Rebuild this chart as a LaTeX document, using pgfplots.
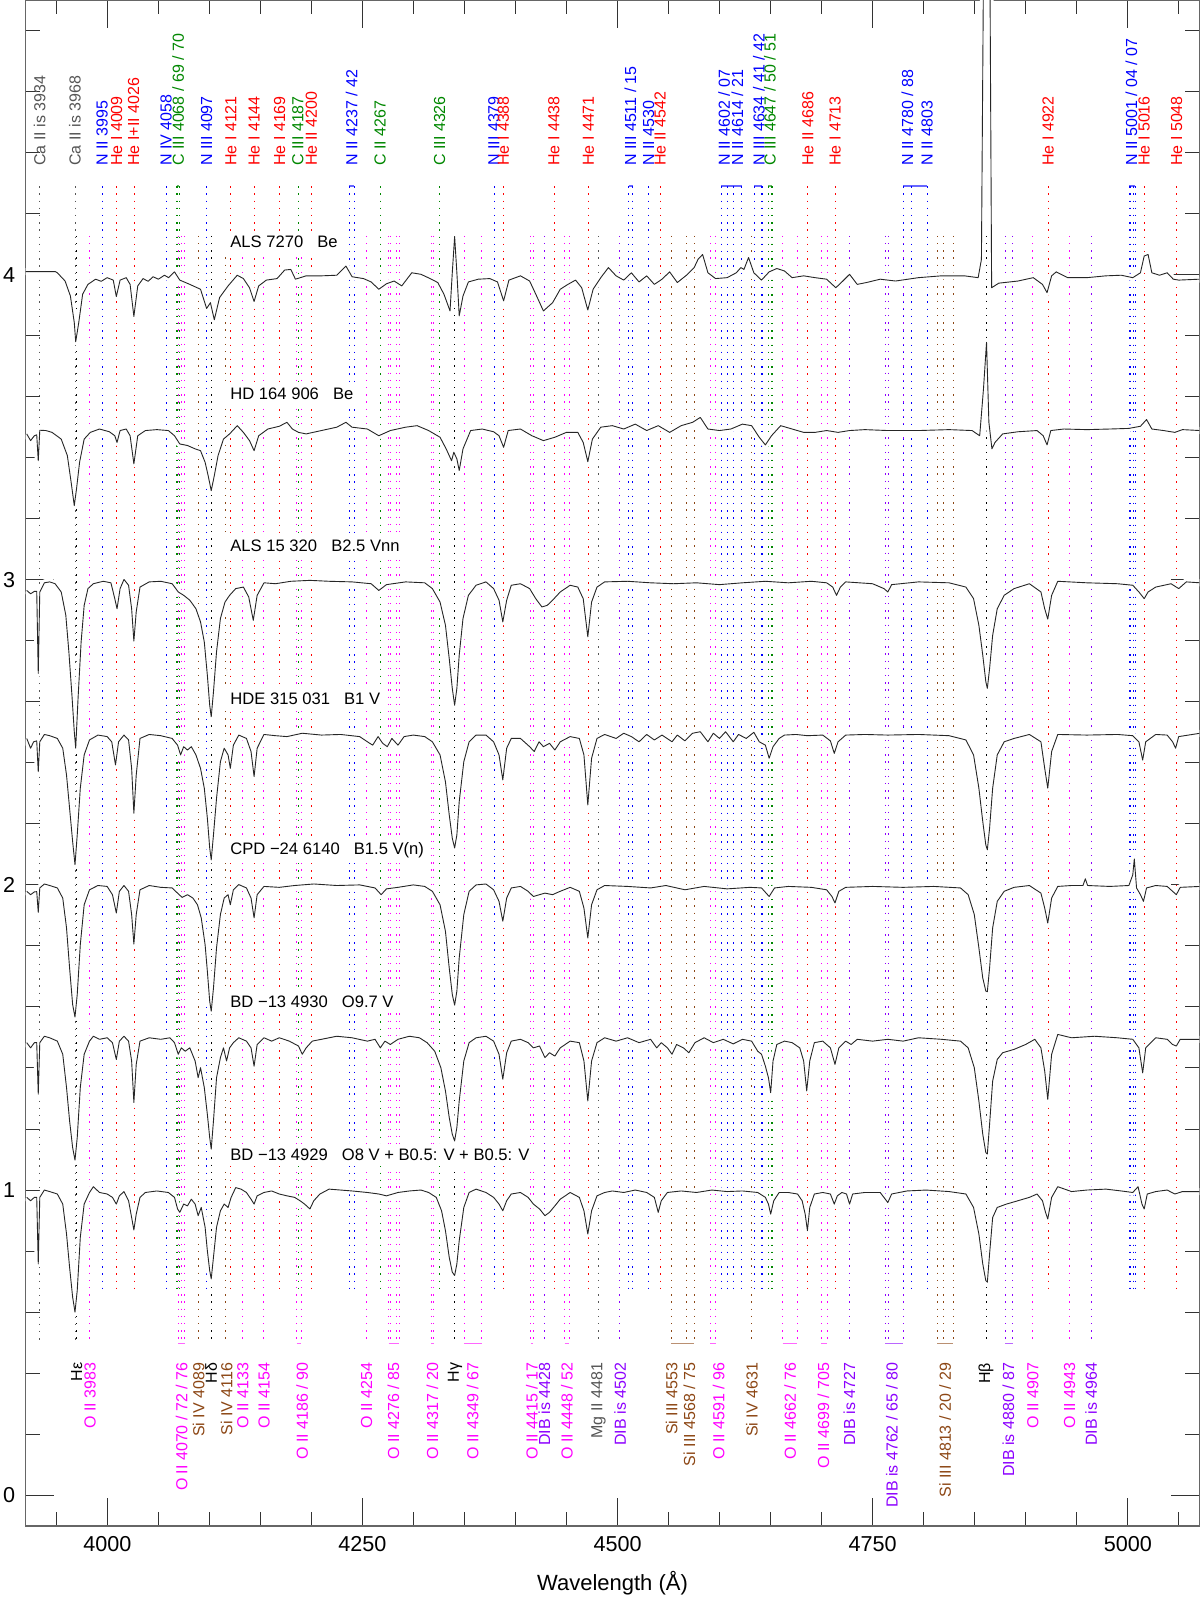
\documentclass[border=0pt]{standalone}
\usepackage{fontspec}
\setmainfont{Liberation Sans}
\usepackage{pgfplots}
\usepackage{pgfplotstable}
\pgfplotsset{compat=1.18}
\usetikzlibrary{calc}

\definecolor{cgray}{RGB}{85,85,85}
\definecolor{cred}{RGB}{255,0,0}
\definecolor{cblue}{RGB}{0,0,255}
\definecolor{cgreen}{RGB}{0,135,0}
\definecolor{cmag}{RGB}{255,0,255}
\definecolor{cbrown}{RGB}{140,70,20}
\definecolor{cdib}{RGB}{140,0,255}

% normalised spectra (wavelength, flux); offsets added when plotting
\pgfplotstableread{
l f
3920 1.010
3949 1.010
3951 1.006
3958.6 0.979
3963.8 0.930
3967.6 0.843
3969.0 0.780
3972.0 0.843
3975.8 0.936
3981.0 0.968
3988.5 0.985
3994 0.978
3999.8 0.990
4005.8 0.982
4008.8 0.928
4012.5 0.982
4018.5 0.990
4022.3 0.968
4026.0 0.863
4029.8 0.963
4035.0 0.987
4040 0.978
4044.8 0.993
4050 0.985
4056.0 0.998
4060 0.990
4065.8 1.009
4071.0 0.982
4080.8 0.968
4091.3 0.952
4097.3 0.889
4101.0 0.908
4104.8 0.852
4110.0 0.925
4118.3 0.963
4127.3 0.998
4133.3 0.987
4139.3 0.957
4143.8 0.912
4148.3 0.963
4155.8 0.982
4166.3 0.987
4173.8 1.015
4179.8 1.017
4184.3 0.985
4194.8 0.996
4209.8 0.996
4224.8 0.998
4233.8 1.028
4239.8 0.993
4251.0 0.987
4258.5 0.976
4266.0 0.952
4273.5 0.970
4281.0 0.979
4288.5 0.963
4298.3 1.006
4307.3 1.001
4316.3 0.987
4323.8 0.974
4329.8 0.936
4335.8 0.881
4338.0 1.006
4340.3 1.125
4342.5 1.006
4344.8 0.865
4348.5 0.930
4353.8 0.976
4363.5 0.985
4374.8 0.987
4382.3 0.976
4388.3 0.914
4393.5 0.982
4404.8 0.996
4413.8 0.979
4419.8 0.936
4427.3 0.881
4436.3 0.908
4443.8 0.952
4451.3 0.968
4458.8 0.982
4464.8 0.957
4470.8 0.884
4476.0 0.952
4483.5 0.990
4491.0 1.023
4498.5 0.996
4506.0 0.982
4513.5 1.006
4521.0 0.976
4528.5 0.996
4536.0 0.968
4543.5 0.985
4551.0 1.009
4558.5 0.974
4567.5 0.998
4575.0 1.023
4578.8 1.050
4583.3 1.066
4588.5 1.006
4596.0 0.987
4607.3 0.990
4616.3 1.006
4620.8 1.023
4623.8 1.017
4628.3 1.056
4633.5 1.006
4641.0 0.982
4648.5 1.009
4656.0 1.020
4663.5 1.012
4671.0 0.990
4682.3 0.996
4693.5 0.990
4704.8 0.985
4713.8 0.957
4719.8 0.976
4727.3 1.001
4734.8 0.968
4743.8 0.974
4757.3 0.985
4772.3 0.979
4794.8 0.990
4817.3 0.996
4839.8 0.996
4853.3 0.990
4856.5 1.050
4858.3 1.900
4860.5 2.500
4863.0 2.500
4865.0 1.900
4866.5 0.957
4873.5 0.972
4892.3 0.979
4907.3 0.990
4916.3 0.968
4920.8 0.941
4925.3 0.996
4929.8 1.009
4941.0 0.990
4959.8 0.990
4978.5 0.996
4993.5 0.998
5004.8 0.990
5012.3 1.006
5016.0 1.061
5019.8 1.066
5023.5 1.006
5031.0 0.998
5038.5 1.006
5044.5 0.985
5049.8 0.982
5070 0.985
}\sA

\pgfplotstableread{
l f
3921.0 0.978
3924.8 0.956
3928.5 0.972
3930.8 0.975
3932.3 0.890
3933.8 0.990
3939.8 0.989
3945.8 0.983
3954.8 0.961
3960.8 0.907
3964.5 0.820
3967.6 0.743
3969.8 0.798
3972.8 0.885
3977.3 0.961
3983.3 0.983
3992.3 0.994
4002.0 0.985
4007.3 0.972
4009.5 0.950
4012.5 0.989
4018.5 0.994
4022.3 0.972
4026.0 0.880
4029.8 0.972
4037.3 0.989
4048.5 0.992
4059.8 0.989
4065.8 0.972
4071.0 0.945
4078.5 0.940
4086.0 0.929
4091.3 0.923
4095.8 0.885
4098.8 0.841
4101.8 0.792
4104.8 0.841
4108.5 0.907
4113.8 0.961
4119.8 0.978
4127.3 1.005
4133.3 0.983
4139.3 0.956
4143.8 0.923
4148.3 0.972
4157.3 0.994
4168.5 1.003
4176.0 1.016
4181.3 0.994
4187.3 0.983
4194.8 0.978
4209.8 0.989
4224.8 1.000
4233.8 1.016
4239.8 1.000
4254.8 0.994
4266.0 0.972
4277.3 0.989
4292.3 1.000
4303.5 1.005
4314.8 0.989
4326.0 0.967
4332.0 0.929
4337.3 0.890
4339.5 0.918
4342.5 0.896
4344.8 0.858
4348.5 0.929
4356.0 0.989
4367.3 0.994
4378.5 0.985
4383.8 0.972
4388.3 0.934
4392.8 0.989
4404.8 0.994
4416.0 0.972
4427.3 0.956
4438.5 0.967
4449.8 0.983
4461.0 0.983
4466.3 0.950
4470.8 0.887
4475.3 0.961
4483.5 1.000
4494.8 1.005
4506.0 0.994
4517.3 1.010
4528.5 0.989
4539.8 1.005
4551.0 0.983
4562.3 1.005
4573.5 1.016
4581.0 1.032
4588.5 0.994
4599.8 0.989
4611.0 0.994
4622.3 1.010
4631.3 1.005
4638.8 0.967
4644.8 0.942
4650.8 0.972
4659.8 1.005
4671.0 0.994
4682.3 0.983
4693.5 0.983
4704.8 0.989
4716.0 0.983
4727.3 0.989
4742.3 0.992
4764.8 0.989
4794.8 0.989
4824.8 0.992
4847.3 0.989
4854.8 0.972
4858.5 1.125
4861.5 1.278
4863.8 1.016
4866.8 0.929
4869.8 0.950
4877.3 0.978
4892.3 0.985
4911.0 0.989
4917.0 0.972
4920.8 0.942
4924.5 0.989
4937.3 0.994
4959.8 0.992
4982.3 0.994
5001.0 0.996
5012.3 1.003
5018.3 1.025
5023.5 0.994
5035.0 0.989
5046.0 0.983
5053.5 0.992
5070.8 0.989
}\sB

\pgfplotstableread{
l f
3921.0 0.965
3924.8 0.954
3928.5 0.962
3930.8 0.962
3932.3 0.693
3933.8 0.960
3938.3 0.990
3943.5 0.993
3948.8 0.987
3954.8 0.960
3959.3 0.884
3962.3 0.764
3965.3 0.622
3967.6 0.502
3969.0 0.448
3971.3 0.611
3974.3 0.796
3977.3 0.916
3981.0 0.971
3986.3 0.987
3996.0 0.995
4003.5 0.990
4007.3 0.938
4009.5 0.905
4012.5 0.971
4016.3 1.001
4020.8 0.982
4023.8 0.905
4026.0 0.799
4028.3 0.895
4032.0 0.976
4041.0 0.993
4052.3 0.995
4063.5 0.987
4069.5 0.960
4074.8 0.949
4080.8 0.933
4086.8 0.905
4091.3 0.862
4095.0 0.796
4098.0 0.687
4100.3 0.589
4101.8 0.551
4104.0 0.633
4107.0 0.764
4110.8 0.873
4115.3 0.927
4119.8 0.949
4125.8 0.971
4133.3 0.976
4138.5 0.944
4143.0 0.867
4146.8 0.949
4153.5 0.990
4164.8 0.987
4179.8 0.995
4198.5 0.998
4217.3 0.995
4239.8 0.993
4258.5 0.987
4266.0 0.965
4273.5 0.984
4292.3 0.993
4311.0 0.990
4318.5 0.971
4326.0 0.927
4331.3 0.851
4335.0 0.742
4338.0 0.644
4340.3 0.589
4342.5 0.644
4344.8 0.753
4348.5 0.873
4353.8 0.949
4361.3 0.982
4371.0 0.993
4378.5 0.971
4383.8 0.933
4387.5 0.862
4391.3 0.933
4395.8 0.982
4404.8 0.987
4413.8 0.971
4419.8 0.938
4425.8 0.911
4431.0 0.916
4436.3 0.933
4443.8 0.960
4453.5 0.982
4461.0 0.976
4466.3 0.938
4470.8 0.813
4474.5 0.927
4479.8 0.976
4487.3 0.993
4509.8 0.995
4532.3 0.990
4554.8 0.987
4577.3 0.990
4599.8 0.984
4622.3 0.990
4644.8 0.995
4667.3 0.990
4689.8 0.995
4704.8 0.990
4710.8 0.976
4714.5 0.949
4718.3 0.976
4723.5 0.993
4749.8 0.987
4761.0 0.971
4764.8 0.960
4768.5 0.984
4794.8 0.993
4824.8 0.990
4841.3 0.976
4848.8 0.938
4854.0 0.851
4857.8 0.753
4860.8 0.666
4862.3 0.644
4864.5 0.709
4867.5 0.818
4872.0 0.905
4878.8 0.949
4888.5 0.971
4903.5 0.987
4914.8 0.960
4918.5 0.905
4921.5 0.871
4925.3 0.949
4931.3 0.995
4959.8 0.990
4989.8 0.987
5004.8 0.982
5010.8 0.960
5016.0 0.938
5019.8 0.960
5027.3 0.976
5042.3 0.987
5049.8 0.971
5057.3 0.993
5070.8 0.990
}\sC

\pgfplotstableread{
l f
3921.0 0.980
3924.8 0.948
3927.8 0.969
3930.8 0.972
3932.3 0.871
3933.8 0.969
3938.3 0.993
3943.5 0.989
3951.0 0.980
3956.3 0.948
3960.0 0.860
3963.0 0.751
3966.0 0.642
3968.3 0.566
3970.5 0.664
3973.5 0.817
3977.3 0.926
3982.5 0.975
3990.8 0.991
3999.8 0.986
4004.3 0.969
4008.0 0.893
4011.0 0.969
4016.3 0.991
4020.8 0.975
4023.8 0.882
4026.0 0.735
4028.3 0.860
4032.0 0.980
4041.0 0.993
4052.3 0.989
4063.5 0.980
4068.8 0.958
4071.8 0.926
4074.8 0.953
4078.5 0.942
4082.3 0.953
4086.8 0.926
4091.3 0.882
4095.0 0.817
4098.0 0.719
4100.3 0.621
4101.8 0.582
4104.0 0.664
4107.0 0.784
4110.8 0.904
4114.5 0.948
4118.3 0.926
4120.5 0.882
4123.5 0.958
4128.8 0.991
4136.3 0.980
4140.8 0.937
4143.8 0.855
4146.8 0.948
4153.5 0.993
4164.8 0.989
4176.0 0.986
4191.0 0.997
4209.8 0.991
4228.5 0.993
4247.3 0.986
4254.8 0.969
4260.0 0.958
4265.3 0.986
4269.8 0.964
4274.3 0.953
4278.8 0.980
4284.8 0.958
4290.8 0.986
4299.8 0.991
4311.0 0.986
4318.5 0.969
4326.0 0.926
4331.3 0.838
4335.0 0.730
4338.0 0.653
4340.3 0.621
4342.5 0.664
4344.8 0.773
4349.3 0.904
4354.5 0.969
4361.3 0.991
4371.0 0.991
4378.5 0.969
4383.8 0.926
4387.5 0.844
4391.3 0.948
4395.8 0.980
4404.8 0.980
4413.8 0.953
4418.3 0.937
4423.0 0.969
4427.3 0.953
4433.3 0.964
4438.5 0.942
4443.8 0.969
4453.5 0.986
4462.5 0.980
4467.0 0.926
4470.8 0.762
4474.5 0.915
4479.8 0.980
4487.3 0.993
4498.5 0.980
4506.0 0.997
4513.5 0.986
4521.0 0.969
4528.5 0.993
4536.0 0.975
4543.5 0.991
4553.3 0.969
4558.5 0.991
4566.0 0.972
4573.5 0.997
4581.0 1.002
4588.5 0.969
4593.8 0.997
4599.8 0.980
4605.8 1.002
4613.3 0.969
4618.5 0.993
4626.0 0.980
4633.5 1.000
4638.8 0.969
4644.8 0.958
4648.5 0.915
4652.3 0.953
4658.3 0.980
4663.5 0.991
4674.8 0.993
4686.0 0.989
4701.0 0.991
4708.5 0.972
4712.3 0.931
4716.0 0.969
4723.5 0.991
4742.3 0.993
4764.8 0.991
4794.8 0.993
4824.8 0.989
4841.3 0.975
4848.8 0.926
4854.0 0.817
4857.8 0.708
4860.8 0.631
4862.3 0.615
4864.5 0.686
4867.5 0.817
4872.0 0.926
4878.8 0.969
4888.5 0.980
4903.5 0.993
4914.8 0.969
4918.5 0.882
4921.5 0.817
4925.3 0.937
4931.3 0.993
4959.8 0.991
4989.8 0.993
5004.8 0.989
5010.8 0.969
5014.5 0.909
5017.5 0.969
5027.3 0.993
5038.5 0.991
5043.8 0.969
5046.8 0.948
5049.8 0.986
5070.8 0.997
}\sD

\pgfplotstableread{
l f
3921.0 0.979
3924.8 0.968
3928.5 0.977
3930.8 0.978
3932.3 0.910
3933.8 0.990
3938.3 1.003
3943.5 0.998
3951.0 0.990
3956.3 0.957
3960.0 0.859
3963.0 0.728
3966.0 0.608
3968.3 0.567
3970.5 0.641
3973.5 0.804
3977.3 0.935
3982.5 0.984
3990.8 0.998
3999.8 0.995
4005.0 0.968
4008.8 0.908
4011.8 0.979
4016.3 0.998
4020.8 0.979
4023.8 0.903
4026.0 0.806
4028.3 0.903
4032.0 0.984
4041.0 0.998
4052.3 0.992
4063.5 0.990
4068.8 0.973
4073.3 0.959
4078.5 0.968
4083.8 0.957
4088.3 0.935
4092.0 0.892
4095.8 0.804
4098.0 0.717
4100.3 0.619
4101.8 0.586
4104.0 0.662
4107.0 0.794
4110.8 0.903
4114.5 0.957
4118.3 0.968
4120.5 0.935
4123.5 0.984
4128.8 1.001
4136.3 0.990
4140.8 0.957
4143.8 0.892
4146.8 0.968
4153.5 0.995
4168.5 0.992
4183.5 0.998
4202.3 1.003
4224.8 0.998
4247.3 1.000
4262.3 0.990
4268.3 0.968
4273.5 0.987
4284.8 0.992
4299.8 1.000
4311.0 0.995
4318.5 0.979
4326.0 0.935
4331.3 0.848
4335.0 0.728
4338.0 0.641
4340.3 0.606
4342.5 0.652
4344.8 0.761
4349.3 0.903
4354.5 0.979
4361.3 1.000
4371.0 1.003
4378.5 0.984
4383.8 0.946
4387.5 0.881
4391.3 0.957
4395.8 0.990
4404.8 0.995
4412.3 0.979
4417.5 0.962
4423.5 0.968
4428.8 0.973
4436.3 0.968
4442.3 0.977
4453.5 0.992
4462.5 0.979
4467.0 0.924
4470.8 0.826
4474.5 0.935
4479.8 0.984
4487.3 0.998
4509.8 0.995
4532.3 0.990
4547.3 0.998
4566.0 0.984
4584.8 0.995
4607.3 0.987
4629.8 0.992
4641.0 0.990
4648.5 0.962
4653.8 0.990
4667.3 0.995
4689.8 0.992
4704.8 0.984
4710.0 0.962
4713.0 0.941
4716.8 0.979
4723.5 0.992
4749.8 0.995
4779.8 0.992
4809.8 0.995
4836.0 0.990
4843.5 0.968
4849.5 0.903
4854.0 0.794
4857.8 0.695
4860.8 0.652
4862.3 0.650
4864.5 0.728
4867.5 0.859
4872.0 0.946
4878.8 0.979
4888.5 0.992
4903.5 0.998
4914.8 0.973
4918.5 0.924
4921.5 0.875
4925.3 0.957
4931.3 0.995
4944.8 0.998
4956.0 0.998
4958.3 1.020
4960.5 0.998
4982.3 0.995
5001.0 0.998
5004.8 1.033
5006.3 1.085
5008.5 0.990
5012.3 0.968
5015.3 0.946
5018.3 0.990
5027.3 0.998
5038.5 0.995
5043.8 0.979
5047.5 0.968
5051.3 0.992
5070.8 0.995
}\sE

\pgfplotstableread{
l f
3921.0 0.983
3924.8 0.966
3928.5 0.983
3930.8 0.983
3932.3 0.814
3933.8 0.983
3938.3 1.004
3943.5 0.999
3951.0 0.988
3956.3 0.945
3960.0 0.836
3963.0 0.727
3966.0 0.639
3968.3 0.598
3970.5 0.672
3973.5 0.836
3977.3 0.945
3982.5 0.988
3986.3 1.004
3992.3 0.994
3999.8 0.999
4005.0 0.983
4008.8 0.928
4011.8 0.988
4016.3 1.004
4020.8 0.988
4023.8 0.923
4026.0 0.787
4028.3 0.912
4032.0 0.988
4041.0 0.999
4052.3 0.994
4061.3 0.999
4065.8 0.983
4069.5 0.945
4072.5 0.966
4076.3 0.955
4080.8 0.966
4086.0 0.923
4089.0 0.868
4091.3 0.901
4095.0 0.836
4098.0 0.748
4100.3 0.672
4101.8 0.634
4104.0 0.727
4107.0 0.868
4110.8 0.934
4113.8 0.966
4116.8 0.923
4119.8 0.966
4123.5 0.983
4128.8 0.999
4136.3 0.988
4140.8 0.966
4143.8 0.906
4146.8 0.977
4153.5 0.999
4161.0 0.988
4168.5 0.999
4178.3 0.988
4187.3 0.972
4191.0 0.945
4194.8 0.966
4200.8 0.988
4209.8 0.994
4224.8 1.004
4239.8 0.999
4254.8 0.988
4262.3 0.994
4267.5 0.966
4272.0 0.988
4277.3 0.977
4284.8 0.994
4296.0 1.004
4305.8 0.999
4313.3 0.983
4320.8 0.955
4326.8 0.901
4331.3 0.825
4335.0 0.738
4338.0 0.683
4340.3 0.661
4342.5 0.705
4344.8 0.792
4349.3 0.923
4354.5 0.983
4361.3 0.999
4371.0 1.004
4378.5 0.988
4383.8 0.945
4387.5 0.863
4391.3 0.950
4395.8 0.988
4404.8 0.994
4412.3 0.983
4417.5 0.966
4423.5 0.972
4428.8 0.934
4433.3 0.950
4438.5 0.939
4443.8 0.966
4453.5 0.988
4462.5 0.983
4467.0 0.923
4470.8 0.792
4474.5 0.923
4479.8 0.983
4487.3 0.999
4498.5 0.988
4509.8 0.999
4521.0 0.983
4532.3 0.994
4538.3 0.966
4542.8 0.983
4548.8 0.966
4553.3 0.945
4557.8 0.977
4564.5 0.966
4569.8 0.950
4575.8 0.983
4584.8 0.999
4593.8 0.983
4603.5 0.994
4613.3 0.979
4622.3 0.994
4631.3 0.988
4637.3 0.955
4641.0 0.945
4644.8 0.906
4647.8 0.868
4650.0 0.819
4652.3 0.923
4656.0 0.977
4663.5 0.988
4671.0 0.983
4678.5 0.966
4682.3 0.923
4685.3 0.825
4688.3 0.923
4692.8 0.983
4701.0 0.988
4708.5 0.966
4713.0 0.912
4716.8 0.966
4723.5 0.988
4728.8 0.977
4734.8 0.994
4749.8 0.988
4764.8 0.994
4779.8 0.988
4794.8 0.999
4817.3 0.994
4836.0 0.988
4843.5 0.966
4849.5 0.901
4854.0 0.792
4857.8 0.683
4860.8 0.623
4862.3 0.618
4864.5 0.716
4867.5 0.857
4872.0 0.928
4877.3 0.950
4888.5 0.961
4899.8 0.977
4908.8 0.994
4914.8 0.966
4918.5 0.890
4921.5 0.797
4925.3 0.945
4931.3 1.010
4944.8 0.999
4967.3 1.004
4989.8 0.999
5004.8 0.994
5010.8 0.966
5014.5 0.884
5017.5 0.966
5027.3 0.999
5038.5 0.994
5043.8 0.977
5047.5 0.972
5051.3 0.994
5070.8 0.994
}\sF

\pgfplotstableread{
l f
3921.0 0.976
3924.8 0.965
3928.5 0.976
3930.8 0.976
3932.3 0.758
3933.8 0.976
3938.3 1.000
3943.5 0.995
3951.0 0.987
3956.3 0.954
3960.0 0.856
3963.0 0.747
3966.0 0.649
3968.3 0.600
3970.5 0.671
3973.5 0.845
3977.3 0.954
3982.5 0.992
3986.3 1.011
3992.3 0.992
3999.8 0.987
4005.0 0.976
4008.8 0.954
4011.8 0.981
4016.3 0.995
4020.8 0.965
4023.8 0.910
4026.0 0.869
4028.3 0.921
4032.0 0.976
4037.3 0.992
4048.5 0.997
4059.8 0.992
4065.8 0.976
4068.8 0.938
4071.0 0.927
4074.8 0.954
4078.5 0.948
4082.3 0.970
4086.0 0.954
4089.0 0.916
4092.0 0.943
4095.8 0.878
4098.0 0.801
4100.3 0.736
4101.8 0.709
4104.0 0.780
4107.0 0.878
4110.8 0.932
4114.5 0.954
4118.3 0.943
4121.3 0.976
4125.8 1.008
4131.0 1.003
4136.3 0.992
4140.8 0.970
4143.8 0.954
4146.8 0.981
4153.5 0.992
4161.0 0.997
4168.5 0.987
4176.0 0.981
4183.5 0.976
4188.8 0.965
4193.3 0.954
4198.5 0.938
4202.3 0.965
4208.3 0.987
4217.3 1.003
4228.5 1.000
4239.8 0.997
4254.8 0.992
4266.0 0.987
4273.5 0.981
4284.8 0.992
4296.0 0.997
4307.3 1.000
4314.8 0.992
4322.3 0.976
4327.5 0.932
4331.3 0.867
4335.0 0.780
4338.0 0.731
4340.3 0.720
4342.5 0.758
4344.8 0.834
4349.3 0.943
4354.5 0.992
4361.3 1.003
4371.0 0.992
4378.5 0.976
4383.8 0.954
4387.5 0.932
4391.3 0.965
4395.8 0.987
4404.8 0.992
4412.3 0.976
4417.5 0.954
4423.5 0.938
4428.8 0.916
4433.3 0.927
4438.5 0.948
4443.8 0.970
4453.5 0.992
4462.5 0.976
4467.0 0.932
4470.8 0.856
4474.5 0.932
4479.8 0.981
4487.3 0.992
4494.8 0.997
4506.0 0.992
4517.3 1.000
4528.5 0.992
4536.0 0.976
4539.8 0.927
4542.8 0.965
4548.8 0.992
4562.3 0.997
4577.3 0.992
4592.3 1.000
4607.3 0.995
4622.3 0.997
4637.3 0.992
4644.8 0.976
4647.8 0.954
4650.0 0.921
4653.0 0.965
4658.3 0.992
4667.3 0.992
4676.3 0.987
4680.8 0.965
4683.8 0.921
4686.0 0.867
4688.3 0.943
4692.8 0.987
4701.0 0.992
4708.5 0.987
4712.3 0.954
4715.3 0.981
4719.8 0.992
4724.3 0.987
4727.3 0.954
4730.3 0.987
4742.3 0.992
4757.3 0.992
4764.8 0.959
4768.5 0.987
4783.5 0.997
4802.3 1.000
4824.8 0.995
4841.3 0.987
4848.8 0.943
4854.0 0.856
4857.8 0.758
4860.8 0.703
4862.3 0.698
4864.5 0.791
4867.5 0.910
4872.0 0.943
4881.0 0.954
4892.3 0.965
4903.5 0.976
4911.0 0.987
4916.3 0.965
4919.3 0.927
4921.5 0.905
4925.3 0.976
4931.3 1.011
4944.8 0.995
4959.8 1.000
4978.5 1.003
4993.5 0.997
5004.8 0.992
5010.0 1.011
5013.8 0.954
5016.0 0.938
5019.0 0.987
5027.3 0.995
5038.5 1.000
5046.0 0.987
5053.5 0.995
5070.8 0.995
}\sG

\tikzset{
  idl/.style={line width=0.4pt, dash pattern=on 0.7pt off 2.9pt},
  brk/.style={line width=0.9pt, opacity=0.6},
  tl/.style={rotate=90, anchor=west, inner sep=0pt, font=\fontsize{8}{9}\selectfont},
  bl/.style={rotate=90, anchor=east, inner sep=0pt, font=\fontsize{8}{9}\selectfont},
  star/.style={anchor=west, fill=white, inner xsep=3pt, inner ysep=2.5pt, xshift=-3pt,
    font=\fontsize{8.3}{10}\selectfont, text=black},
  spec/.style={black!85, line width=0.45pt, line join=round,
    preaction={draw=white, line width=3.5pt}}
}

\begin{document}
\begin{tikzpicture}
\begin{axis}[
  scale only axis, width=586.8pt, height=762.85pt,
  xmin=3920, xmax=5070, ymin=-0.1, ymax=4.9,
  xtick={4000,4250,4500,4750,5000},
  minor xtick={3950,4000,...,5050},
  ytick={0,1,2,3,4},
  minor ytick={0,0.2,...,4.81},
  tick align=inside, tick pos=both,
  xticklabel pos=lower, yticklabel pos=left,
  major tick length=14pt, minor tick length=7pt,
  every tick/.style={black!80, line width=0.5pt},
  axis line style={black!60, line width=0.8pt},
  /pgf/number format/assume math mode=true,
  /pgf/number format/1000 sep={},
  ticklabel style={font=\fontsize{10.8}{12}\selectfont},
  xticklabel style={yshift=-2pt},
  yticklabel style={xshift=-1.7pt},
  xlabel={Wavelength (Å)},
  xlabel style={font=\fontsize{11}{13}\selectfont, at={(axis description cs:0.5,0)},
    anchor=center, yshift=-28.6pt},
]
% identification lines: upper group
\pgfplotsinvokeforeach{3933.7,3968.5}{\draw[idl,cgray] (axis cs:#1,4.29) -- (axis cs:#1,0.497);}
\pgfplotsinvokeforeach{3995.0,4057.8,4097.3,4236.9,4241.8,4379.1,4510.9,4514.9,4530.4,4601.5,4607.2,4613.9,4621.4,4634.1,4640.6,4641.9,4779.7,4788.1,4803.3,5001.1,5002.7,5005.2,5007.3}{\draw[idl,cblue] (axis cs:#1,4.29) -- (axis cs:#1,0.664);}
\pgfplotsinvokeforeach{4009.3,4026.2,4120.8,4143.8,4169.0,4199.8,4387.9,4437.6,4471.5,4541.6,4685.7,4713.1,4921.9,5015.7,5047.7}{\draw[idl,cred] (axis cs:#1,4.29) -- (axis cs:#1,0.664);}
\pgfplotsinvokeforeach{4067.9,4068.9,4070.3,4186.9,4267.2,4325.6,4647.4,4650.3,4651.5}{\draw[idl,cgreen] (axis cs:#1,4.29) -- (axis cs:#1,0.664);}
% identification lines: lower group
\pgfplotsinvokeforeach{3982.7,4069.6,4072.2,4075.9,4132.8,4153.3,4185.4,4189.8,4254.0,4275.5,4277.4,4283.7,4285.7,4317.1,4319.6,4349.4,4366.9,4414.9,4417.0,4448.2,4452.4,4591.0,4596.0,4661.6,4676.2,4699.2,4705.3,4906.8,4943.0}{\draw[idl,cmag] (axis cs:#1,4.127) -- (axis cs:#1,0.497);}
\pgfplotsinvokeforeach{4088.9,4116.1,4552.6,4567.8,4574.8,4631.4,4813.3,4819.7,4828.9}{\draw[idl,cbrown] (axis cs:#1,4.127) -- (axis cs:#1,0.497);}
\pgfplotsinvokeforeach{4428.0,4501.8,4726.8,4762.3,4765.0,4780.0,4880.0,4887.0,4963.9}{\draw[idl,cdib] (axis cs:#1,4.127) -- (axis cs:#1,0.497);}
\pgfplotsinvokeforeach{4481.2}{\draw[idl,cgray] (axis cs:#1,4.127) -- (axis cs:#1,0.497);}
\pgfplotsinvokeforeach{3970.1,4101.7,4340.5,4861.3}{\draw[idl,black] (axis cs:#1,4.127) -- (axis cs:#1,0.497);}

% multiplet brackets
\draw[brk,cblue] (axis cs:4236.9,4.29) -- (axis cs:4241.8,4.29);
\draw[brk,cblue] (axis cs:4510.9,4.29) -- (axis cs:4514.9,4.29);
\draw[brk,cblue] (axis cs:4601.5,4.29) -- (axis cs:4621.4,4.29);
\draw[brk,cblue] (axis cs:4634.1,4.29) -- (axis cs:4641.9,4.29);
\draw[brk,cblue] (axis cs:4779.7,4.29) -- (axis cs:4803.3,4.29);
\draw[brk,cblue] (axis cs:5001.1,4.29) -- (axis cs:5007.3,4.29);
\draw[brk,cgreen] (axis cs:4067.9,4.29) -- (axis cs:4070.3,4.29);
\draw[brk,cgreen] (axis cs:4647.4,4.29) -- (axis cs:4651.5,4.29);
\draw[brk,cmag] (axis cs:4069.6,0.497) -- (axis cs:4075.9,0.497);
\draw[brk,cmag] (axis cs:4185.4,0.497) -- (axis cs:4189.8,0.497);
\draw[brk,cmag] (axis cs:4275.5,0.497) -- (axis cs:4285.7,0.497);
\draw[brk,cmag] (axis cs:4317.1,0.497) -- (axis cs:4319.6,0.497);
\draw[brk,cmag] (axis cs:4349.4,0.497) -- (axis cs:4366.9,0.497);
\draw[brk,cmag] (axis cs:4414.9,0.497) -- (axis cs:4417.0,0.497);
\draw[brk,cmag] (axis cs:4448.2,0.497) -- (axis cs:4452.4,0.497);
\draw[brk,cmag] (axis cs:4591.0,0.497) -- (axis cs:4596.0,0.497);
\draw[brk,cmag] (axis cs:4661.6,0.497) -- (axis cs:4676.2,0.497);
\draw[brk,cmag] (axis cs:4699.2,0.497) -- (axis cs:4705.3,0.497);
\draw[brk,cbrown] (axis cs:4552.6,0.497) -- (axis cs:4574.8,0.497);
\draw[brk,cbrown] (axis cs:4813.3,0.497) -- (axis cs:4828.9,0.497);
\draw[brk,cdib] (axis cs:4762.3,0.497) -- (axis cs:4780.0,0.497);
\draw[brk,cdib] (axis cs:4880.0,0.497) -- (axis cs:4887.0,0.497);

% star names
\node[star] at (axis cs:4120.2,4.107) {ALS 7270\hspace{0.85em}Be};
\node[star] at (axis cs:4120.2,3.611) {HD 164 906\hspace{0.85em}Be};
\node[star] at (axis cs:4120.2,3.111) {ALS 15 320\hspace{0.85em}B2.5 Vnn};
\node[star] at (axis cs:4120.2,2.610) {HDE 315 031\hspace{0.85em}B1 V};
\node[star] at (axis cs:4120.2,2.113) {CPD −24 6140\hspace{0.85em}B1.5 V(n)};
\node[star] at (axis cs:4120.2,1.616) {BD −13 4930\hspace{0.85em}O9.7 V};
\node[star] at (axis cs:4120.2,1.114) {BD −13 4929\hspace{0.85em}O8 V + B0.5: V + B0.5: V};

% spectra
\addplot[spec] table[x=l, y expr=\thisrow{f}+3.0] {\sA};
\addplot[spec] table[x=l, y expr=\thisrow{f}+2.5] {\sB};
\addplot[spec] table[x=l, y expr=\thisrow{f}+2.0] {\sC};
\addplot[spec] table[x=l, y expr=\thisrow{f}+1.5] {\sD};
\addplot[spec] table[x=l, y expr=\thisrow{f}+1.0] {\sE};
\addplot[spec] table[x=l, y expr=\thisrow{f}+0.5] {\sF};
\addplot[spec] table[x=l, y expr=\thisrow{f}] {\sG};

% upper labels
\node[tl,cgray] at (axis cs:3933.7,4.356) {Ca II is 3934};
\node[tl,cgray] at (axis cs:3968.3,4.356) {Ca II is 3968};
\node[tl,cblue] at (axis cs:3994.9,4.356) {N II 3995};
\node[tl,cred] at (axis cs:4009.2,4.356) {He I 4009};
\node[tl,cred] at (axis cs:4025.8,4.356) {He I+II 4026};
\node[tl,cblue] at (axis cs:4057.5,4.356) {N IV 4058};
\node[tl,cgreen] at (axis cs:4069.4,4.356) {C III 4068 / 69 / 70};
\node[tl,cblue] at (axis cs:4097.3,4.356) {N III 4097};
\node[tl,cred] at (axis cs:4121.0,4.356) {He I 4121};
\node[tl,cred] at (axis cs:4143.8,4.356) {He I 4144};
\node[tl,cred] at (axis cs:4168.8,4.356) {He I 4169};
\node[tl,cgreen] at (axis cs:4186.8,4.356) {C III 4187};
\node[tl,cred] at (axis cs:4200.0,4.356) {He II 4200};
\node[tl,cblue] at (axis cs:4239.5,4.356) {N II 4237 / 42};
\node[tl,cgreen] at (axis cs:4267.2,4.356) {C II 4267};
\node[tl,cgreen] at (axis cs:4325.6,4.356) {C III 4326};
\node[tl,cblue] at (axis cs:4378.8,4.356) {N III 4379};
\node[tl,cred] at (axis cs:4388.0,4.356) {He I 4388};
\node[tl,cred] at (axis cs:4437.6,4.356) {He I 4438};
\node[tl,cred] at (axis cs:4471.4,4.356) {He I 4471};
\node[tl,cblue] at (axis cs:4512.5,4.356) {N III 4511 / 15};
\node[tl,cblue] at (axis cs:4530.3,4.356) {N II 4530};
\node[tl,cred] at (axis cs:4541.6,4.356) {He II 4542};
\node[tl,cblue] at (axis cs:4604.5,4.356) {N II 4602 / 07};
\node[tl,cblue] at (axis cs:4617.5,4.356) {N II 4614 / 21};
\node[tl,cblue] at (axis cs:4638.5,4.356) {N III 4634 / 41 / 42};
\node[tl,cgreen] at (axis cs:4649.2,4.356) {C III 4647 / 50 / 51};
\node[tl,cred] at (axis cs:4686.5,4.356) {He II 4686};
\node[tl,cred] at (axis cs:4713.2,4.356) {He I 4713};
\node[tl,cblue] at (axis cs:4784.0,4.356) {N II 4780 / 88};
\node[tl,cblue] at (axis cs:4803.2,4.356) {N II 4803};
\node[tl,cred] at (axis cs:4921.8,4.356) {He I 4922};
\node[tl,cblue] at (axis cs:5003.5,4.356) {N II 5001 / 04 / 07};
\node[tl,cred] at (axis cs:5016.0,4.356) {He I 5016};
\node[tl,cred] at (axis cs:5047.8,4.356) {He I 5048};

% lower labels
\node[bl,black] at (axis cs:3970.0,0.435) {Hε};
\node[bl,cmag] at (axis cs:3983.0,0.435) {O II 3983};
\node[bl,cmag] at (axis cs:4072.9,0.435) {O II 4070 / 72 / 76};
\node[bl,cbrown] at (axis cs:4089.5,0.435) {Si IV 4089};
\node[bl,black] at (axis cs:4101.7,0.435) {Hδ};
\node[bl,cbrown] at (axis cs:4116.8,0.435) {Si IV 4116};
\node[bl,cmag] at (axis cs:4132.8,0.435) {O II 4133};
\node[bl,cmag] at (axis cs:4153.6,0.435) {O II 4154};
\node[bl,cmag] at (axis cs:4191.0,0.435) {O II 4186 / 90};
\node[bl,cmag] at (axis cs:4254.0,0.435) {O II 4254};
\node[bl,cmag] at (axis cs:4280.3,0.435) {O II 4276 / 85};
\node[bl,cmag] at (axis cs:4318.6,0.435) {O II 4317 / 20};
\node[bl,black] at (axis cs:4340.7,0.435) {Hγ};
\node[bl,cmag] at (axis cs:4358.0,0.435) {O II 4349 / 67};
\node[bl,cmag] at (axis cs:4416.0,0.435) {O II 4415 / 17};
\node[bl,cdib] at (axis cs:4428.3,0.435) {DIB is 4428};
\node[bl,cmag] at (axis cs:4450.2,0.435) {O II 4448 / 52};
\node[bl,cgray] at (axis cs:4481.3,0.435) {Mg II 4481};
\node[bl,cdib] at (axis cs:4502.5,0.435) {DIB is 4502};
\node[bl,cbrown] at (axis cs:4553.0,0.435) {Si III 4553};
\node[bl,cbrown] at (axis cs:4570.3,0.435) {Si III 4568 / 75};
\node[bl,cmag] at (axis cs:4599.0,0.435) {O II 4591 / 96};
\node[bl,cbrown] at (axis cs:4631.5,0.435) {Si IV 4631};
\node[bl,cmag] at (axis cs:4669.0,0.435) {O II 4662 / 76};
\node[bl,cmag] at (axis cs:4701.7,0.435) {O II 4699 / 705};
\node[bl,cdib] at (axis cs:4727.2,0.435) {DIB is 4727};
\node[bl,cdib] at (axis cs:4768.7,0.435) {DIB is 4762 / 65 / 80};
\node[bl,cbrown] at (axis cs:4821.0,0.435) {Si III 4813 / 20 / 29};
\node[bl,black] at (axis cs:4861.0,0.435) {Hβ};
\node[bl,cdib] at (axis cs:4883.0,0.435) {DIB is 4880 / 87};
\node[bl,cmag] at (axis cs:4907.0,0.435) {O II 4907};
\node[bl,cmag] at (axis cs:4942.8,0.435) {O II 4943};
\node[bl,cdib] at (axis cs:4964.0,0.435) {DIB is 4964};

\coordinate (sw) at (rel axis cs:0,0);
\coordinate (ne) at (rel axis cs:1,1);
\end{axis}
\pgfresetboundingbox
\path[use as bounding box] ($(sw)+(-12.85pt,-37.65pt)$) rectangle ($(ne)+(0.35pt,0pt)$);
\end{tikzpicture}
\end{document}
